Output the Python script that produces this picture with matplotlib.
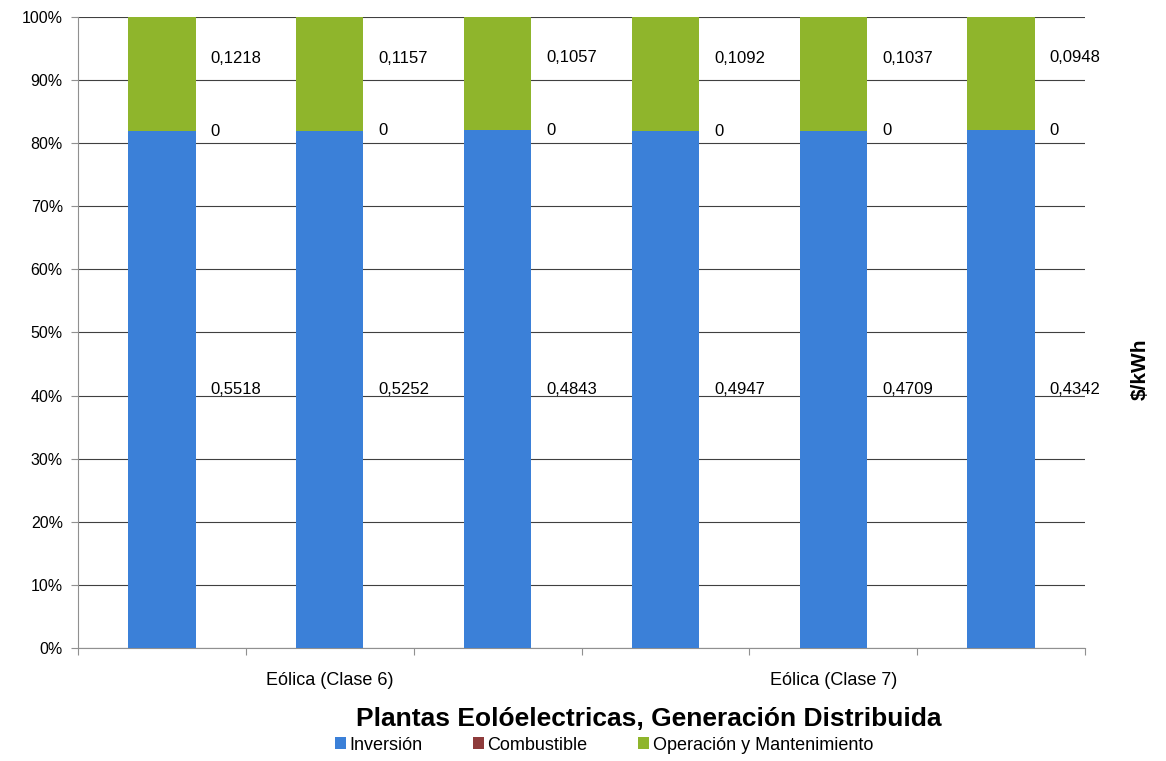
import matplotlib.pyplot as plt
import numpy as np

plt.rcParams['font.family'] = ['Liberation Sans', 'DejaVu Sans']

grupos = ['Eólica (Clase 6)', 'Eólica (Clase 7)']
inversion = [0.5518, 0.5252, 0.4843, 0.4947, 0.4709, 0.4342]
combustible = [0, 0, 0, 0, 0, 0]
operacion = [0.1218, 0.1157, 0.1057, 0.1092, 0.1037, 0.0948]
series = ['Inversión', 'Combustible', 'Operación y Mantenimiento']
colores = ['#3b80d8', '#8e3b3b', '#8fb52c']


def fmt(v):
    return ('%g' % v).replace('.', ',')


fig = plt.figure(figsize=(11.66, 7.61), dpi=100)
ax = fig.add_axes([0.067, 0.1485, 0.8635, 0.8292])

x = np.arange(len(inversion))
tot = np.array(inversion) + np.array(combustible) + np.array(operacion)
p_inv = np.array(inversion) / tot * 100
p_com = np.array(combustible) / tot * 100
p_op = np.array(operacion) / tot * 100

w = 0.4
ax.bar(x, p_inv, w, color=colores[0], label=series[0], zorder=3)
ax.bar(x, p_com, w, bottom=p_inv, color=colores[1], label=series[1], zorder=3)
ax.bar(x, p_op, w, bottom=p_inv + p_com, color=colores[2], label=series[2], zorder=3)

# etiquetas a la derecha de cada barra
for i in x:
    xl = i + w / 2 + 0.09
    ax.text(xl, p_inv[i] / 2, fmt(inversion[i]), fontsize=12, va='center', ha='left')
    ax.text(xl, p_inv[i] + p_com[i], fmt(combustible[i]), fontsize=12, va='center', ha='left')
    ax.text(xl, p_inv[i] + p_com[i] + p_op[i] / 2 + 2.5, fmt(operacion[i]), fontsize=12,
            va='center', ha='left')

ax.set_xlim(-0.5, len(x) - 0.5)
ax.set_ylim(0, 100)
ax.set_yticks(np.arange(0, 101, 10))
ax.set_yticklabels(['%d%%' % v for v in range(0, 101, 10)], fontsize=11.5)
ax.yaxis.grid(True, color='#404040', linewidth=0.8, zorder=0)
ax.set_xticks(np.arange(-0.5, len(x), 1))
ax.set_xticklabels([])
ax.tick_params(axis='x', length=5, color='#909090')
ax.tick_params(axis='y', length=5, color='#909090', pad=6)
for s in ['top', 'right']:
    ax.spines[s].set_visible(False)
for s in ['left', 'bottom']:
    ax.spines[s].set_color('#909090')

for k, g in enumerate(grupos):
    ax.text(1 + 3 * k, -5.2, g, fontsize=13, ha='center', va='center')

fig.text(0.978, 0.515, '$/kWh', rotation=90, fontsize=15, fontweight='bold',
         ha='center', va='center')
fig.text(0.556, 0.055, 'Plantas Eolóelectricas, Generación Distribuida', fontsize=19,
         fontweight='bold', ha='center', va='center')
fig.legend(loc='center', bbox_to_anchor=(0.518, 0.021), ncol=3, frameon=False, fontsize=13,
           handlelength=0.6, handleheight=0.6, handletextpad=0.2, columnspacing=2.8)

fig.savefig('out.png', dpi=100)
